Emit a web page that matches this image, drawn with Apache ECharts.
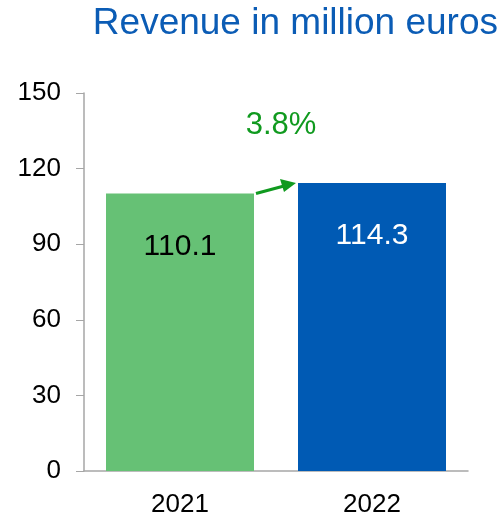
<!DOCTYPE html>
<html>
<head>
<meta charset="utf-8">
<script src="https://cdn.jsdelivr.net/npm/echarts@6/dist/echarts.min.js"></script>
<style>
  html, body { margin: 0; padding: 0; background: #fff; }
  #chart { width: 503px; height: 518px; }
</style>
</head>
<body>
<div id="chart"></div>
<script>
// revenue per year, million euros
const years = ['2021', '2022']
const revenue = [110.1, 114.3]
const barColors = ['#66c175', '#005ab4']
const labelColors = ['#000', '#fff']
const yTicks = { min: 0, max: 150, interval: 30 }

const font = '"Liberation Sans", Arial, sans-serif'
const growth = ((revenue[1] / revenue[0] - 1) * 100).toFixed(1) + '%'
const barW = 148

let chart = echarts.init(document.getElementById('chart'))

chart.setOption({
  animation: false,
  textStyle: { fontFamily: font },
  title: {
    text: 'Revenue in million euros',
    right: 0,
    top: 0,
    textStyle: { color: '#0b5cb5', fontSize: 37, fontWeight: 'normal', fontFamily: font }
  },
  grid: { left: 84, right: 35, top: 93, bottom: 46 },
  xAxis: {
    type: 'category',
    data: years,
    axisLine: { lineStyle: { color: '#a6a6a6', width: 1.5 } },
    axisTick: { show: false },
    axisLabel: { color: '#000', fontSize: 26, margin: 21, fontFamily: font }
  },
  yAxis: {
    type: 'value',
    min: yTicks.min,
    max: yTicks.max,
    interval: yTicks.interval,
    splitLine: { show: false },
    axisLine: { show: true, lineStyle: { color: '#a6a6a6', width: 1.5 } },
    axisTick: { show: true, length: 8, lineStyle: { color: '#a6a6a6' } },
    axisLabel: { color: '#000', fontSize: 26, margin: 23, fontFamily: font }
  },
  series: [{
    type: 'bar',
    barWidth: barW,
    data: revenue.map((v, i) => ({
      value: v,
      itemStyle: { color: barColors[i] },
      label: { color: labelColors[i] }
    })),
    label: {
      show: true,
      position: 'insideTop',
      distance: 38,
      fontSize: 30,
      fontFamily: font
    }
  }]
})

// growth arrow between the two bar tops, placed via the chart's own scales
const p0 = chart.convertToPixel({ seriesIndex: 0 }, [0, revenue[0]])
const p1 = chart.convertToPixel({ seriesIndex: 0 }, [1, revenue[1]])
const x0 = p0[0] + barW / 2 + 2
const x1 = p1[0] - barW / 2 - 2
const labelY = chart.convertToPixel({ yAxisIndex: 0 }, 137)

chart.setOption({
  graphic: [
    {
      type: 'line',
      shape: { x1: x0, y1: p0[1], x2: x1 - 12, y2: p1[1] + 3 },
      style: { stroke: '#109a1f', lineWidth: 3 }
    },
    {
      type: 'polygon',
      shape: { points: [[x1, p1[1]], [x1 - 16, p1[1] - 4], [x1 - 12, p1[1] + 9]] },
      style: { fill: '#109a1f' }
    },
    {
      type: 'text',
      x: (p0[0] + p1[0]) / 2 + 5,
      y: labelY,
      style: {
        text: growth,
        fill: '#109a1f',
        font: '31px ' + font,
        align: 'center',
        verticalAlign: 'middle'
      }
    }
  ]
})
</script>
</body>
</html>
